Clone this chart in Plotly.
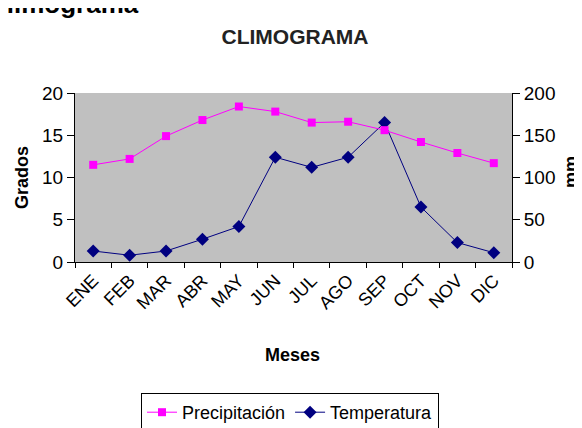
import plotly.graph_objects as go

meses = ["ENE", "FEB", "MAR", "ABR", "MAY", "JUN", "JUL", "AGO", "SEP", "OCT", "NOV", "DIC"]
precipitacion_mm = [115, 122, 149, 168, 184, 178, 165, 166, 156, 142, 129, 117]
temperatura_grados = [1.3, 0.8, 1.3, 2.7, 4.2, 12.4, 11.2, 12.4, 16.5, 6.5, 2.3, 1.1]

FONT = "Liberation Sans, Arial, sans-serif"

# page has an 8px body margin, so the figure is 8px smaller and shifted
W, H = 574, 420
PL, PR, PT, PB = 75, 512, 93, 262  # plot area in page pixels
PW, PH = PR - PL, PB - PT


def px(x):
    return (x - PL) / PW


def py(y):
    return (PB - y) / PH


fig = go.Figure()
fig.add_trace(go.Scatter(
    x=meses, y=precipitacion_mm, name="Precipitación", yaxis="y2",
    mode="lines+markers", line=dict(color="#FF00FF", width=1),
    marker=dict(symbol="square", size=8, color="#FF00FF"),
))
fig.add_trace(go.Scatter(
    x=meses, y=temperatura_grados, name="Temperatura", yaxis="y",
    mode="lines+markers", line=dict(color="#000080", width=1),
    marker=dict(symbol="diamond", size=10, color="#000080"),
))

fig.update_layout(
    width=W, height=H,
    margin=dict(l=PL - 8, r=W - (PR - 8), t=PT - 8, b=H - (PB - 8), autoexpand=False),
    paper_bgcolor="white", plot_bgcolor="#C0C0C0",
    font=dict(family=FONT, color="black", size=16),
    title=dict(text="<b>CLIMOGRAMA</b>", x=px(295), xanchor="center", xref="paper",
               y=1 - (37 - 8) / H, yanchor="middle",
               font=dict(size=21, color="#222222")),
    xaxis=dict(type="category", showline=True, linecolor="black", linewidth=1,
               ticks="outside", ticklen=5, tickcolor="black", tickson="boundaries",
               tickangle=-45, tickfont=dict(size=18), showgrid=False, range=[-0.5, 11.5],
               automargin=False),
    yaxis=dict(range=[0, 20], dtick=5, showline=True, linecolor="black", linewidth=1,
               ticks="outside", ticklen=7, tickcolor="black", showgrid=False,
               tickfont=dict(size=19), zeroline=False, automargin=False),
    yaxis2=dict(range=[0, 200], dtick=50, overlaying="y", side="right", showline=True,
                linecolor="black", linewidth=1, ticks="outside", ticklen=7, tickcolor="black",
                showgrid=False, tickfont=dict(size=19), zeroline=False, automargin=False),
    legend=dict(orientation="h", x=px(290), xanchor="center", y=py(393), yanchor="top",
                bordercolor="black", borderwidth=1, bgcolor="white", font=dict(size=18),
                traceorder="normal"),
    showlegend=True,
)

fig.add_annotation(text="<b>Climograma</b>", xref="paper", yref="paper",
                   x=px(-14), y=py(21), xanchor="left", yanchor="bottom",
                   showarrow=False, font=dict(family="Liberation Sans, Arial", size=26, color="black"))
fig.add_annotation(text="<b>Grados</b>", xref="paper", yref="paper",
                   x=px(22), y=py(178), textangle=-90, xanchor="center", yanchor="middle",
                   showarrow=False, font=dict(size=18))
fig.add_annotation(text="<b>mm</b>", xref="paper", yref="paper",
                   x=px(571), y=py(172), textangle=-90, xanchor="center", yanchor="middle",
                   showarrow=False, font=dict(size=18))
fig.add_annotation(text="<b>Meses</b>", xref="paper", yref="paper",
                   x=px(292), y=py(355), xanchor="center", yanchor="middle",
                   showarrow=False, font=dict(size=18))

fig.write_html("out.html")
